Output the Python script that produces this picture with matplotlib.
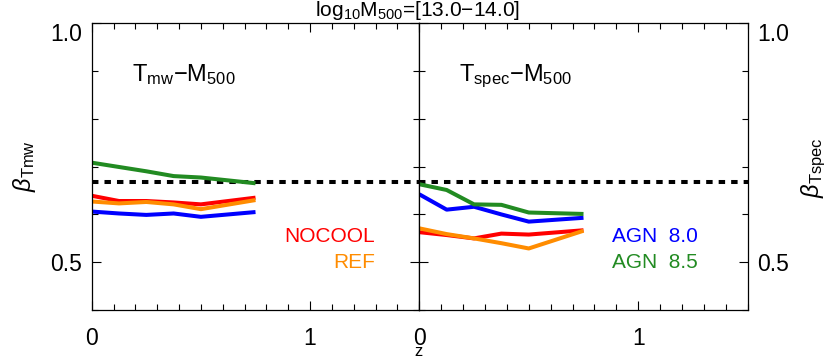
import matplotlib
matplotlib.use("Agg")
import matplotlib.pyplot as plt
from matplotlib.ticker import MultipleLocator, FixedLocator

plt.rcParams['font.family'] = ['Liberation Sans', 'DejaVu Sans']
plt.rcParams['mathtext.fontset'] = 'custom'
plt.rcParams['mathtext.rm'] = 'Liberation Sans'
plt.rcParams['mathtext.it'] = 'Liberation Sans:italic'
plt.rcParams['mathtext.bf'] = 'Liberation Sans:bold'

# redshifts
z = [0.0, 0.125, 0.25, 0.375, 0.5, 0.75]

# Tmw - M500 slopes
tmw_nocool = [0.639, 0.628, 0.628, 0.625, 0.621, 0.635]
tmw_ref    = [0.627, 0.623, 0.626, 0.621, 0.611, 0.630]
tmw_agn80  = [0.606, 0.602, 0.599, 0.602, 0.595, 0.605]
tmw_agn85  = [0.708, 0.699, 0.690, 0.680, 0.677, 0.665]

# Tspec - M500 slopes
tsp_nocool = [0.563, 0.557, 0.550, 0.560, 0.558, 0.567]
tsp_ref    = [0.571, 0.559, 0.550, 0.540, 0.529, 0.566]
tsp_agn80  = [0.642, 0.610, 0.616, 0.600, 0.585, 0.593]
tsp_agn85  = [0.663, 0.651, 0.621, 0.620, 0.604, 0.601]

self_similar = 2.0 / 3.0

c_nocool = '#ff0000'
c_ref = '#ff8c00'
c_agn80 = '#0000ff'
c_agn85 = '#228b22'

W, H = 830, 361
fig = plt.figure(figsize=(W / 100, H / 100), dpi=100)
x0, x1, x2 = 91.7, 419.3, 747.7
yt, yb = 22.7, 310.3
axL = fig.add_axes([x0 / W, 1 - yb / H, (x1 - x0) / W, (yb - yt) / H])
axR = fig.add_axes([x1 / W, 1 - yb / H, (x2 - x1) / W, (yb - yt) / H])

lw = 2.9
for ax, data in [(axL, (tmw_nocool, tmw_ref, tmw_agn80, tmw_agn85)),
                 (axR, (tsp_nocool, tsp_ref, tsp_agn80, tsp_agn85))]:
    ax.set_xlim(0, 1.5)
    ax.set_ylim(0.4, 1.0)
    ax.axhline(self_similar, color='k', lw=2.9, ls=(0, (1.6, 1.5)), zorder=1)
    for vals, c in zip(data, (c_nocool, c_ref, c_agn80, c_agn85)):
        ax.plot(z, vals, color=c, lw=lw, solid_capstyle='butt', zorder=2)
    ax.xaxis.set_major_locator(FixedLocator([0, 1]))
    ax.xaxis.set_minor_locator(MultipleLocator(0.1))
    ax.yaxis.set_major_locator(FixedLocator([0.5, 1.0]))
    ax.yaxis.set_minor_locator(MultipleLocator(0.1))
    ax.tick_params(which='both', direction='in', top=True, right=True,
                   width=0.8, labelsize=16.5)
    ax.tick_params(which='major', length=6.5)
    ax.tick_params(which='minor', length=4)
    ax.tick_params(axis='x', pad=12)
    ax.tick_params(axis='y', pad=7)
    for s in ax.spines.values():
        s.set_linewidth(0.9)

axL.set_xticklabels(['0', '1'])
axL.set_yticklabels(['0.5', '1.0'])
axR.set_xticklabels(['0', '1'])
axR.tick_params(axis='y', labelleft=False, labelright=True)
axR.set_yticklabels(['0.5', '1.0'])
axL.get_yticklabels()[1].set_verticalalignment('top')
axR.get_yticklabels()[1].set_verticalalignment('top')

# panel labels
axL.text(0.183, 0.878, r'T$_{\rm mw}$$-$M$_{500}$', fontsize=17, ha='left', va='baseline')
axR.text(0.183, 0.878, r'T$_{\rm spec}$$-$M$_{500}$', fontsize=17, ha='left', va='baseline')

# legend texts
axL.text(1.296, 0.555, 'NOCOOL', color=c_nocool, fontsize=15, ha='right', va='center')
axL.text(1.296, 0.499, 'REF', color=c_ref, fontsize=15, ha='right', va='center')
axR.text(0.88, 0.555, 'AGN  8.0', color=c_agn80, fontsize=15, ha='left', va='center')
axR.text(0.88, 0.499, 'AGN  8.5', color=c_agn85, fontsize=15, ha='left', va='center')

# axis labels
fig.text(24 / W, 1 - 166 / H, r'$\beta_{\rm Tmw}$', fontsize=17, rotation=90, ha='center', va='center')
fig.text(814 / W, 1 - 168 / H, r'$\beta_{\rm Tspec}$', fontsize=17, rotation=90, ha='center', va='center')
fig.text(418 / W, 1 - 11 / H, r'log$_{10}$M$_{500}$=[13.0$-$14.0]', fontsize=15, ha='center', va='center')
fig.text(418 / W, 1 - 352 / H, 'z', fontsize=12, ha='center', va='center')

fig.savefig('out.png', dpi=100)
